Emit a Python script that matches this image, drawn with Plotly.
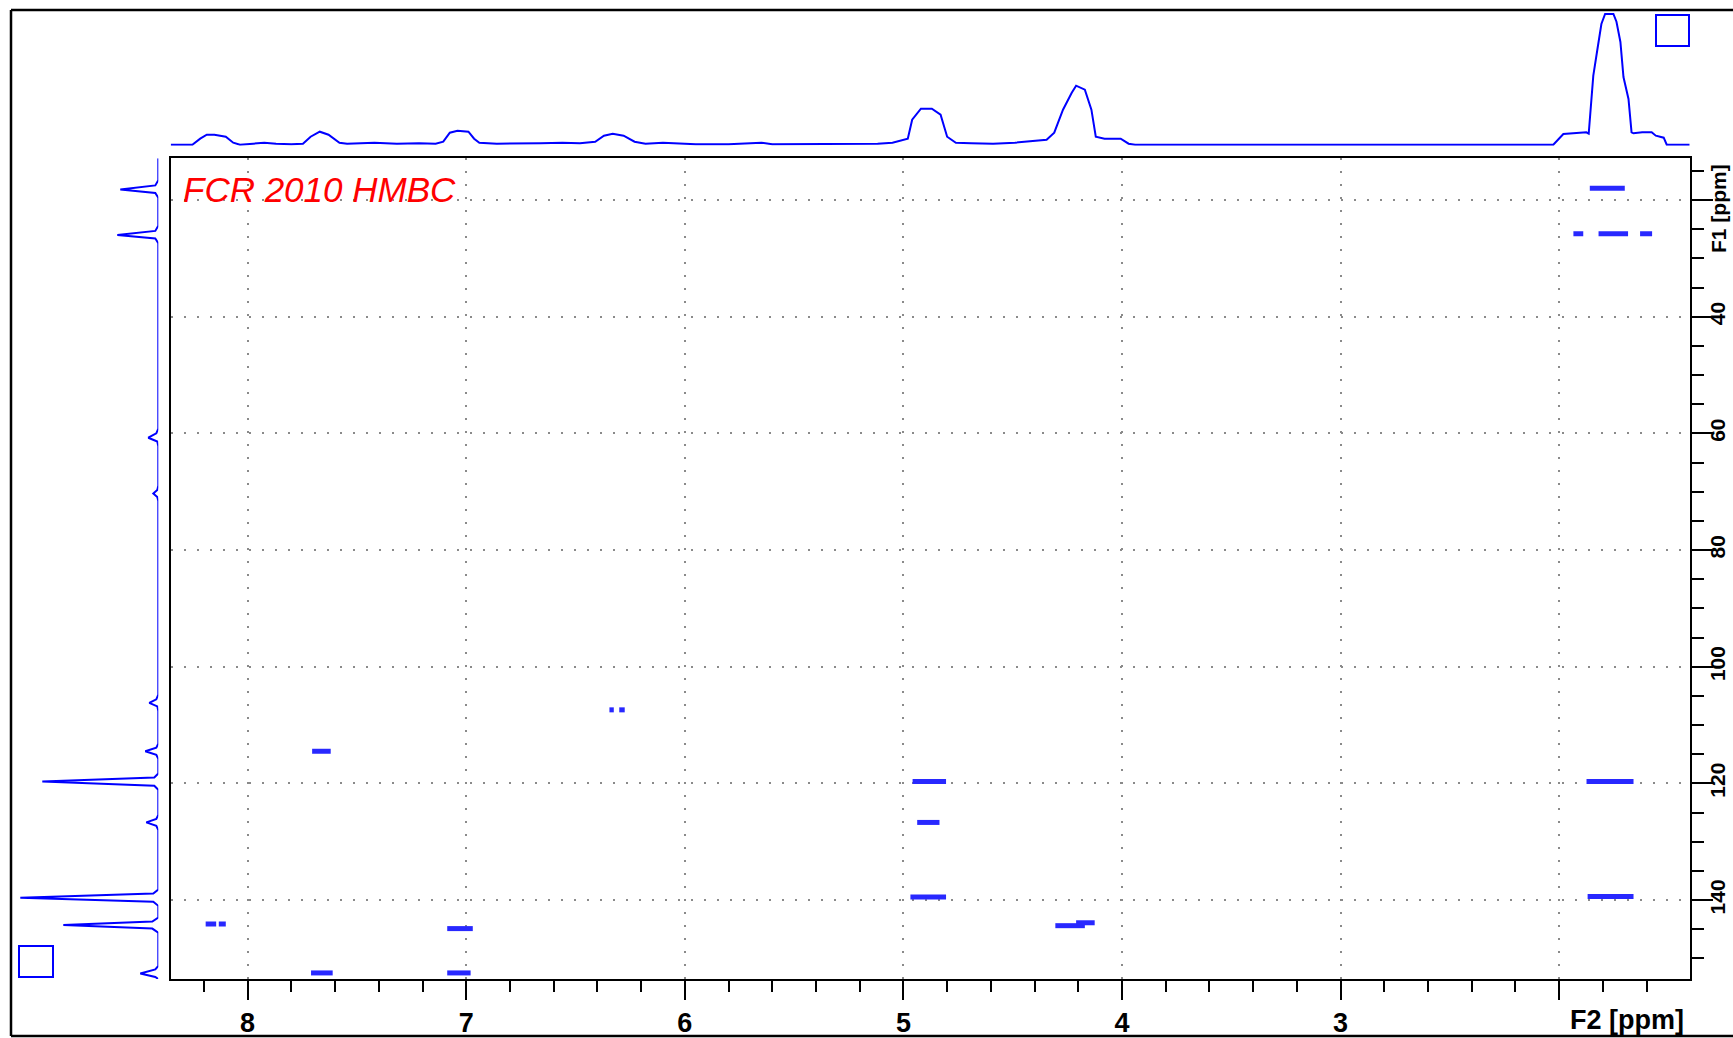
import plotly.graph_objects as go

W, H = 1733, 1038

# ---- data (ppm) ----
# 2D cross peaks: F2 start, F2 end, F1
peak_f2_lo = [1.86, 1.935, 1.82, 1.63, 6.345, 6.30, 7.705, 4.958, 4.937, 4.968, 1.875, 1.87,
              4.305, 4.21, 8.192, 8.132, 7.087, 7.087, 7.710]
peak_f2_hi = [1.70, 1.89, 1.685, 1.575, 6.325, 6.275, 7.62, 4.805, 4.835, 4.805, 1.66, 1.66,
              4.17, 4.125, 8.144, 8.100, 6.970, 6.980, 7.611]
peak_f1 = [18.0, 25.8, 25.8, 25.8, 107.4, 107.4, 114.5, 119.7, 126.7, 139.5, 119.7, 139.4,
           144.4, 143.9, 144.1, 144.1, 144.9, 152.5, 152.5]

# F2 projection (top): ppm, intensity
f2_proj_ppm = [8.352, 8.253, 8.217, 8.187, 8.152, 8.126, 8.10, 8.066, 8.035, 7.975, 7.924, 7.87,
               7.80, 7.747, 7.712, 7.67, 7.63, 7.58, 7.545, 7.42, 7.317, 7.216, 7.14, 7.105,
               7.075, 7.04, 6.99, 6.964, 6.94, 6.86, 6.76, 6.66, 6.56, 6.48, 6.41, 6.37, 6.33,
               6.28, 6.23, 6.18, 6.10, 6.03, 5.95, 5.80, 5.70, 5.65, 5.60, 5.118, 5.05, 4.98,
               4.96, 4.92, 4.87, 4.83, 4.80, 4.76, 4.69, 4.59, 4.49, 4.41, 4.345, 4.31, 4.27,
               4.23, 4.21, 4.17, 4.14, 4.12, 4.08, 4.006, 3.97, 3.94, 2.027, 1.981, 1.90,
               1.876, 1.865, 1.859, 1.844, 1.825, 1.807, 1.79, 1.77, 1.752, 1.738, 1.72,
               1.706, 1.683, 1.669, 1.66, 1.62, 1.577, 1.558, 1.522, 1.508, 1.403]
f2_proj_int = [0, 0, 6, 10, 10, 9, 8, 2, 0, 1, 2, 1,
               0.5, 1, 8, 13, 10, 2, 1, 2, 1, 1.5, 1, 3,
               12, 14, 13, 6, 2, 1, 1, 1.5, 2, 1.5, 3, 9, 11,
               9, 3, 1, 2, 1.5, 0.5, 0.5, 2, 2, 0.5, 1, 2, 6,
               25, 36, 36, 30, 8, 2, 1.5, 1, 2, 4, 5, 12, 35,
               52, 59, 55, 35, 8, 6, 6, 1, 0, 0, 10.7, 12,
               12.4, 11, 30, 69, 95.7, 120.7, 130.7, 131, 130.7, 123, 102.7,
               67.7, 45.7, 12.4, 11.4, 12.4, 12.4, 9, 7, 0, 0]

# F1 projection (left): ppm, intensity
f1_proj_ppm = [12.85, 16.6, 17.5, 18.2, 18.8, 19.6, 24.4, 25.3, 26.0, 26.6, 27.4, 59.2, 60.0,
               60.75, 61.4, 62.2, 69.0, 69.7, 70.3, 70.9, 71.6, 104.8, 105.6, 106.2, 106.8,
               107.6, 113.2, 113.9, 114.5, 115.1, 115.8, 118.3, 119.0, 119.7, 120.4, 121.1,
               125.4, 126.1, 126.7, 127.3, 128.0, 138.2, 138.9, 139.6, 140.3, 141.0, 143.0,
               143.7, 144.3, 144.9, 145.6, 151.3, 151.9, 152.6, 153.2, 153.54]
f1_proj_int = [0, 0, 3, 38, 3, 0, 0, 3, 41, 3, 0, 0, 2,
               10, 1, 0, 0, 1, 5, 1, 0, 0, 2, 9, 1,
               0, 0, 2, 13, 2, 0, 0, 4, 116, 4, 0,
               0, 2, 12, 2, 0, 0, 5, 138, 5, 0, 0,
               6, 95, 6, 0, 0, 3, 18, 3, 0]

f2_tickvals = [8, 7, 6, 5, 4, 3, 2]
f2_ticktext = ["8", "7", "6", "5", "4", "3", ""]
f1_tickvals = [20, 40, 60, 80, 100, 120, 140]
f1_ticktext = ["", "40", "60", "80", "100", "120", "140"]

# ---- geometry (pixels) ----
def px(x):
    return x / W

def py(y):
    return 1 - y / H

FL, FR, FT, FB = 170.7, 1689.7, 158.3, 979.0
TOPBASE = 145.7
LEFTBASE = 158.3

BLUE = "rgb(0,0,255)"
PEAKBLUE = "rgb(40,40,255)"

fig = go.Figure()

# cross peaks
px_list, py_list = [], []
for lo, hi, f1 in zip(peak_f2_lo, peak_f2_hi, peak_f1):
    px_list += [lo, hi, None]
    py_list += [f1, f1, None]
fig.add_trace(go.Scatter(x=px_list, y=py_list, mode="lines",
                         line=dict(color=PEAKBLUE, width=5),
                         xaxis="x", yaxis="y", hoverinfo="skip", showlegend=False))

# top projection
fig.add_trace(go.Scatter(x=f2_proj_ppm, y=f2_proj_int, mode="lines",
                         line=dict(color=BLUE, width=2),
                         xaxis="x2", yaxis="y2", showlegend=False))

# left projection
fig.add_trace(go.Scatter(x=f1_proj_int, y=f1_proj_ppm, mode="lines",
                         line=dict(color=BLUE, width=2),
                         xaxis="x3", yaxis="y3", showlegend=False))

tickfont = dict(family="Liberation Sans", size=27, color="black", weight="bold")
rtickfont = dict(family="Liberation Sans", size=21, color="black", weight="bold")
grid_kw = dict(showgrid=True, gridcolor="#8a8a8a", gridwidth=2, griddash="2px,11px")

fig.update_layout(
    width=W, height=H,
    margin=dict(l=0, r=0, t=0, b=0),
    paper_bgcolor="white", plot_bgcolor="white",
    showlegend=False,
    xaxis=dict(domain=[px(FL), px(FR)], range=[8.352, 1.403], anchor="y",
               showline=True, mirror=True, linecolor="black", linewidth=2,
               ticks="outside", ticklen=19, tickwidth=2, tickcolor="black",
               tickmode="array", tickvals=f2_tickvals, ticktext=f2_ticktext,
               tickfont=tickfont,
               minor=dict(dtick=0.2, tick0=0, ticklen=11, tickwidth=2,
                          tickcolor="black", ticks="outside", showgrid=False),
               zeroline=False, **grid_kw),
    yaxis=dict(domain=[py(FB), py(FT)], range=[153.54, 12.85], anchor="x", side="right",
               showline=True, mirror=True, linecolor="black", linewidth=2,
               ticks="outside", ticklen=21, tickwidth=2, tickcolor="black",
               tickmode="array", tickvals=f1_tickvals, ticktext=f1_ticktext,
               tickfont=rtickfont, tickangle=-90, ticklabelstandoff=-13,
               minor=dict(dtick=5, tick0=0, ticklen=12, tickwidth=2,
                          tickcolor="black", ticks="outside", showgrid=False),
               zeroline=False, **grid_kw),
    xaxis2=dict(domain=[px(FL), px(FR)], matches="x", anchor="y2", visible=False),
    yaxis2=dict(domain=[py(TOPBASE), 1.0], range=[-1, TOPBASE - 1], anchor="x2", visible=False),
    xaxis3=dict(domain=[0.0, px(LEFTBASE)], range=[LEFTBASE, 0], anchor="y3", visible=False),
    yaxis3=dict(domain=[py(FB), py(FT)], matches="y", anchor="x3", visible=False),
)

shapes = [
    # outer window border (top, left, bottom)
    dict(type="line", xref="paper", yref="paper", x0=px(11), x1=1.0, y0=py(10), y1=py(10),
         line=dict(color="black", width=2.5)),
    dict(type="line", xref="paper", yref="paper", x0=px(11), x1=px(11), y0=py(10), y1=py(1036),
         line=dict(color="black", width=2.5)),
    dict(type="line", xref="paper", yref="paper", x0=px(11), x1=1.0, y0=py(1036), y1=py(1036),
         line=dict(color="black", width=2.5)),
    # small blue boxes
    dict(type="rect", xref="paper", yref="paper", x0=px(1656), x1=px(1689), y0=py(15), y1=py(46),
         line=dict(color=BLUE, width=2)),
    dict(type="rect", xref="paper", yref="paper", x0=px(19), x1=px(53), y0=py(946), y1=py(977),
         line=dict(color=BLUE, width=2)),
]
fig.update_layout(shapes=shapes)

fig.add_annotation(text="<i>FCR 2010 HMBC</i>", xref="paper", yref="paper",
                   x=px(181), y=py(189), xanchor="left", yanchor="middle", showarrow=False,
                   font=dict(family="Liberation Sans", size=35, color="red"))
fig.add_annotation(text="F2 [ppm]", xref="paper", yref="paper",
                   x=px(1686), y=py(1020), xanchor="right", yanchor="middle", showarrow=False,
                   font=dict(family="Liberation Sans", size=27, color="black", weight="bold"))
fig.add_annotation(text="F1 [ppm]", xref="paper", yref="paper", textangle=-90,
                   x=px(1731), y=py(163), xanchor="right", yanchor="top", showarrow=False,
                   borderpad=0,
                   font=dict(family="Liberation Sans", size=21, color="black", weight="bold"))

post = (
    "var st=document.createElement('style');"
    "st.textContent='html,body{margin:0;padding:0;overflow:hidden;}';"
    "document.head.appendChild(st);"
)
fig.write_html("out.html", config={"displayModeBar": False}, post_script=post)
